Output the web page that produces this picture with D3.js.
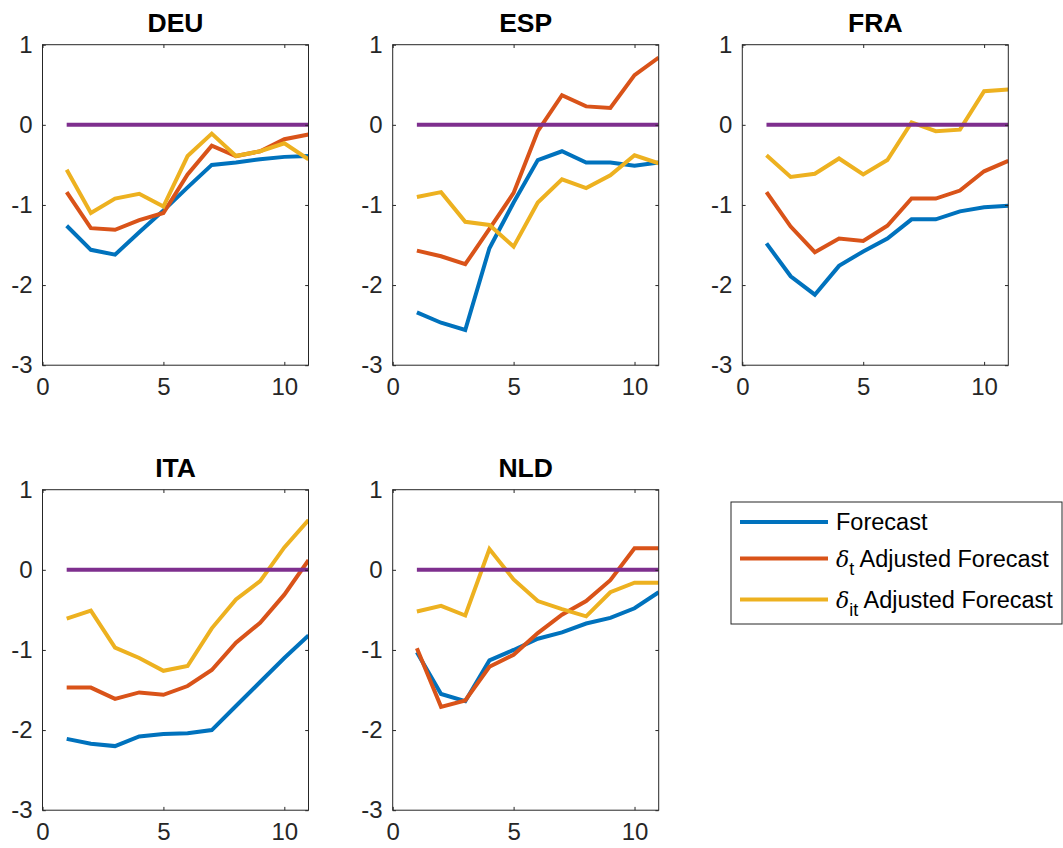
<!DOCTYPE html>
<html>
<head>
<meta charset="utf-8">
<script src="https://cdn.jsdelivr.net/npm/d3@7"></script>
<style>
  body { margin: 0; background: #fff; }
  svg { font-family: "Liberation Sans", Arial, Helvetica, sans-serif; }
</style>
</head>
<body>
<div class="chart"></div>
<script>
// countries, one panel each
const countries = ['DEU', 'ESP', 'FRA', 'ITA', 'NLD']
const horizons = [1, 2, 3, 4, 5, 6, 7, 8, 9, 10, 11]

// Forecast
const forecast = {
  DEU: [-1.26, -1.56, -1.62, -1.34, -1.07, -0.78, -0.50, -0.47, -0.43, -0.40, -0.39],
  ESP: [-2.34, -2.47, -2.56, -1.54, -0.97, -0.44, -0.33, -0.47, -0.47, -0.51, -0.47],
  FRA: [-1.48, -1.89, -2.12, -1.76, -1.58, -1.42, -1.18, -1.18, -1.08, -1.03, -1.01],
  ITA: [-2.11, -2.17, -2.20, -2.08, -2.05, -2.04, -2.00, -1.70, -1.40, -1.10, -0.82],
  NLD: [-1.03, -1.55, -1.64, -1.13, -1.00, -0.86, -0.78, -0.67, -0.60, -0.48, -0.28]
}

// delta_t adjusted forecast
const adjT = {
  DEU: [-0.84, -1.29, -1.31, -1.19, -1.10, -0.62, -0.26, -0.39, -0.33, -0.18, -0.12],
  ESP: [-1.57, -1.64, -1.74, -1.30, -0.85, -0.08, 0.37, 0.23, 0.21, 0.62, 0.84],
  FRA: [-0.84, -1.27, -1.59, -1.42, -1.45, -1.26, -0.92, -0.92, -0.82, -0.58, -0.45],
  ITA: [-1.47, -1.47, -1.61, -1.53, -1.56, -1.45, -1.25, -0.91, -0.66, -0.31, 0.12],
  NLD: [-0.98, -1.71, -1.63, -1.21, -1.06, -0.79, -0.56, -0.39, -0.13, 0.27, 0.27]
}

// delta_it adjusted forecast
const adjIT = {
  DEU: [-0.56, -1.10, -0.92, -0.86, -1.02, -0.39, -0.11, -0.39, -0.33, -0.23, -0.43],
  ESP: [-0.90, -0.84, -1.21, -1.25, -1.52, -0.97, -0.68, -0.79, -0.63, -0.38, -0.48],
  FRA: [-0.38, -0.65, -0.61, -0.42, -0.62, -0.44, 0.03, -0.08, -0.06, 0.42, 0.44],
  ITA: [-0.61, -0.51, -0.97, -1.10, -1.26, -1.20, -0.73, -0.37, -0.14, 0.28, 0.62],
  NLD: [-0.52, -0.45, -0.57, 0.26, -0.12, -0.39, -0.49, -0.58, -0.28, -0.16, -0.16]
}

const xTicks = [0, 5, 10]
const yTicks = [-3, -2, -1, 0, 1]

const colors = {
  forecast: '#0072BD',
  adjT: '#D95319',
  adjIT: '#EDB120',
  zero: '#7E2F8E'
}

const width = 1063
const height = 848

// panel placement (MATLAB subplot 2x3)
const colLeft = [42.5, 392.7, 742.3]
const rowTop = [44.7, 489.7]
const panelW = 266
const panelH = 320.5

const svg = d3.select('.chart')
  .append('svg')
  .attr('width', width)
  .attr('height', height)

const x = d3.scaleLinear().domain([0, 11]).range([0, panelW])
const y = d3.scaleLinear().domain([-3, 1]).range([panelH, 0])

const line = d3.line()
  .x((d, i) => x(horizons[i]))
  .y(d => y(d))

const tickLen = 3.3
const axisColor = '#262626'
// plain hyphen minus, like MATLAB
const fmt = d => String(d)

countries.forEach((c, k) => {
  const left = colLeft[k % 3]
  const top = rowTop[Math.floor(k / 3)]

  const g = svg.append('g')
    .attr('transform', `translate(${left},${top})`)

  g.append('clipPath')
    .attr('id', `clip-${c}`)
    .append('rect')
    .attr('width', panelW)
    .attr('height', panelH)

  const plot = g.append('g').attr('clip-path', `url(#clip-${c})`)

  const series = [
    [forecast[c], colors.forecast],
    [adjT[c], colors.adjT],
    [adjIT[c], colors.adjIT],
    [horizons.map(() => 0), colors.zero]
  ]

  series.forEach(([vals, col]) => {
    plot.append('path')
      .datum(vals)
      .attr('d', line)
      .attr('fill', 'none')
      .attr('stroke', col)
      .attr('stroke-width', 4)
  })

  // box
  g.append('rect')
    .attr('width', panelW)
    .attr('height', panelH)
    .attr('fill', 'none')
    .attr('stroke', axisColor)
    .attr('stroke-width', 1)

  // axes: ticks inward on all sides, labels left and bottom
  g.append('g')
    .attr('class', 'axis axis--y')
    .call(d3.axisLeft(y).tickValues(yTicks).tickSize(-tickLen).tickPadding(10).tickFormat(fmt))
  g.append('g')
    .attr('class', 'axis axis--y2')
    .attr('transform', `translate(${panelW},0)`)
    .call(d3.axisRight(y).tickValues(yTicks).tickSize(-tickLen).tickFormat(''))
  g.append('g')
    .attr('class', 'axis axis--x')
    .attr('transform', `translate(0,${panelH})`)
    .call(d3.axisBottom(x).tickValues(xTicks).tickSize(-tickLen).tickPadding(13).tickFormat(fmt))
  g.append('g')
    .attr('class', 'axis axis--x2')
    .call(d3.axisTop(x).tickValues(xTicks).tickSize(-tickLen).tickFormat(''))

  g.selectAll('.axis .domain').remove()
  g.selectAll('.axis line').attr('stroke', axisColor)
  g.selectAll('.axis text')
    .attr('fill', axisColor)
    .style('font-size', '24px')
    .style('font-family', '"Liberation Sans", Arial, sans-serif')

  // title
  g.append('text')
    .attr('x', panelW / 2)
    .attr('y', -12.5)
    .attr('text-anchor', 'middle')
    .style('font-size', '26.5px')
    .style('font-weight', 'bold')
    .text(c)
})

// legend
const legend = svg.append('g').attr('transform', 'translate(731,502)')

legend.append('rect')
  .attr('width', 331)
  .attr('height', 122)
  .attr('fill', '#fff')
  .attr('stroke', axisColor)
  .attr('stroke-width', 1)

const legendItems = [
  { col: colors.forecast, sym: null, sub: null },
  { col: colors.adjT, sym: 'δ', sub: 't' },
  { col: colors.adjIT, sym: 'δ', sub: 'it' }
]
const legendY = [20, 56.5, 97.5]

legendItems.forEach((d, i) => {
  legend.append('line')
    .attr('x1', 9)
    .attr('x2', 97)
    .attr('y1', legendY[i])
    .attr('y2', legendY[i])
    .attr('stroke', d.col)
    .attr('stroke-width', 4)

  const t = legend.append('text')
    .attr('x', 105)
    .attr('y', legendY[i] + 8)
    .style('font-size', '23.5px')
    .attr('fill', '#000')

  if (d.sym) {
    t.append('tspan').style('font-style', 'italic').style('font-family', '"DejaVu Serif", serif').style('font-size', '22px').text(d.sym)
    t.append('tspan').attr('dy', 8).style('font-size', '18px').text(d.sub)
    t.append('tspan').attr('dy', -8).text(' Adjusted Forecast')
  } else {
    t.text('Forecast')
  }
})
</script>
</body>
</html>
